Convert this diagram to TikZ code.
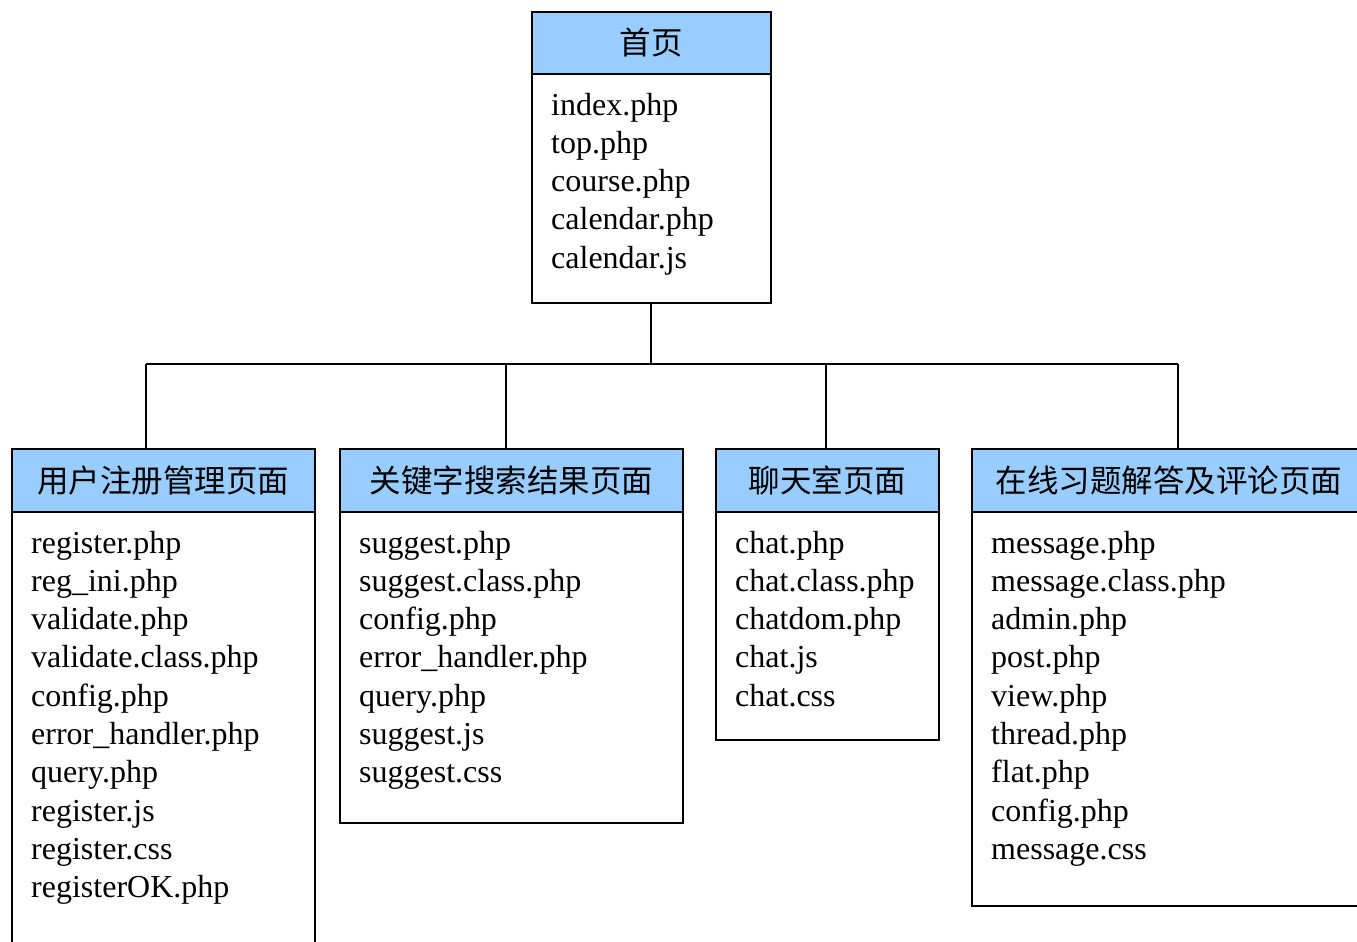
\documentclass[tikz,border=0pt]{standalone}
\usepackage{fontspec}
\setmainfont{Liberation Serif}
\newfontfamily\cjk{Noto Sans CJK SC}
\definecolor{hdrblue}{RGB}{153,204,255}
\begin{document}
\begin{tikzpicture}[x=1pt,y=-1pt,
  hdr/.style={draw=black,line width=1.8pt,fill=hdrblue,anchor=north west,inner sep=0pt,
     font=\cjk\fontsize{31.5}{36}\selectfont},
  bodybox/.style={draw=black,line width=1.8pt,anchor=north west,inner sep=0pt},
  item/.style={anchor=base west,inner sep=0pt,font=\fontsize{32}{38}\selectfont},
  conn/.style={line width=1.8pt,black}]
\useasboundingbox (0,0) rectangle (1357,942);
% top box
\node[bodybox,minimum width=239pt,minimum height=229pt] (tb) at (531,73) {};
\node[hdr,minimum width=239pt,minimum height=62pt] (th) at (531,11) {首页};
\foreach \t [count=\i from 0] in {index.php,top.php,course.php,calendar.php,calendar.js}
  \node[item] (t\i) at (551,115+38.3*\i) {\t};
% box 1
\node[bodybox,minimum width=303pt,minimum height=480pt] (b1) at (11,511) {};
\node[hdr,minimum width=303pt,minimum height=63pt] (h1) at (11,448) {用户注册管理页面};
\foreach \t [count=\i from 0] in {register.php,reg\_ini.php,validate.php,validate.class.php,config.php,error\_handler.php,query.php,register.js,register.css,registerOK.php}
  \node[item] (a\i) at (31,553+38.3*\i) {\t};
% box 2
\node[bodybox,minimum width=343pt,minimum height=311pt] (b2) at (339,511) {};
\node[hdr,minimum width=343pt,minimum height=63pt] (h2) at (339,448) {关键字搜索结果页面};
\foreach \t [count=\i from 0] in {suggest.php,suggest.class.php,config.php,error\_handler.php,query.php,suggest.js,suggest.css}
  \node[item] (c\i) at (359,553+38.3*\i) {\t};
% box 3
\node[bodybox,minimum width=223pt,minimum height=228pt] (b3) at (715,511) {};
\node[hdr,minimum width=223pt,minimum height=63pt] (h3) at (715,448) {聊天室页面};
\foreach \t [count=\i from 0] in {chat.php,chat.class.php,chatdom.php,chat.js,chat.css}
  \node[item] (d\i) at (735,553+38.3*\i) {\t};
% box 4
\node[bodybox,minimum width=414pt,minimum height=394pt] (b4) at (971,511) {};
\node[hdr,minimum width=414pt,minimum height=63pt,text width=414pt,align=left] (h4) at (971,448) {\hspace*{24pt}在线习题解答及评论页面};
\foreach \t [count=\i from 0] in {message.php,message.class.php,admin.php,post.php,view.php,thread.php,flat.php,config.php,message.css}
  \node[item] (e\i) at (991,553+38.3*\i) {\t};
% connectors
\coordinate (j0) at (651,364);
\coordinate (j1) at (146,364);
\coordinate (j2) at (506,364);
\coordinate (j3) at (826,364);
\coordinate (j4) at (1178,364);
\draw[conn] (j0 |- tb.south) -- (j0);
\draw[conn] (j1) -- (j4);
\draw[conn] (j1) -- (j1 |- h1.north);
\draw[conn] (j2) -- (j2 |- h2.north);
\draw[conn] (j3) -- (j3 |- h3.north);
\draw[conn] (j4) -- (j4 |- h4.north);
\end{tikzpicture}
\end{document}
